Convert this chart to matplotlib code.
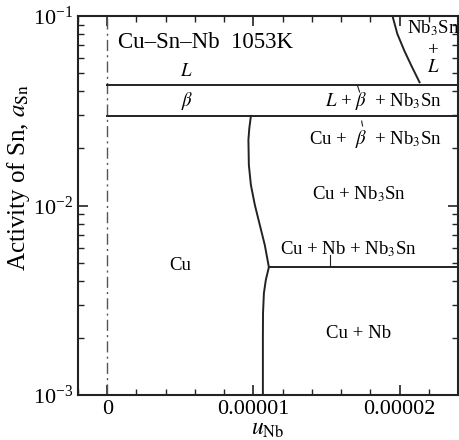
import numpy as np
import matplotlib
matplotlib.use("Agg")
matplotlib.rcParams['font.family'] = ['Liberation Serif', 'DejaVu Serif']
matplotlib.rcParams['mathtext.fontset'] = 'stix'
import matplotlib.pyplot as plt
from matplotlib.ticker import FixedLocator, LogLocator, NullFormatter

# phase boundaries (u_Nb, a_Sn)
a_L_beta = 0.0433        # L / beta boundary
a_beta_cu = 0.0297       # beta / Cu+beta boundary
a_nb_line = 0.00473      # Cu+Nb3Sn / Cu+Nb boundary
u_nb_line_start = 1.106e-5

cu_u = [0.983e-5, 0.972e-5, 0.966e-5, 0.969e-5, 0.983e-5, 1.010e-5, 1.044e-5, 1.078e-5, 1.106e-5]
cu_a = [0.0297, 0.0255, 0.0222, 0.01637, 0.01283, 0.01007, 0.00789, 0.00619, 0.00473]
nb_u = [1.106e-5, 1.085e-5, 1.072e-5, 1.066e-5, 1.065e-5, 1.065e-5]
nb_a = [0.00473, 0.00404, 0.00345, 0.00271, 0.0020, 0.001]

liq_u = [1.952e-5, 1.985e-5, 2.034e-5, 2.082e-5, 2.137e-5]
liq_a = [0.1, 0.0805, 0.0653, 0.0545, 0.0447]

# small leader marks for thin regions
marks = [([1.713e-5, 1.727e-5], [0.0428, 0.0397]),
         ([1.741e-5, 1.747e-5], [0.0279, 0.0263]),
         ([1.522e-5, 1.522e-5], [0.00548, 0.0048])]

xmin, xmax = -2e-6, 2.4e-5
xticks = [0, 1e-5, 2e-5]
xticklabels = ['0', '0.00001', '0.00002']

fig = plt.figure(figsize=(4.6, 4.4), dpi=100)
ax = fig.add_axes([0.1696, 0.1023, 0.826, 0.8613])
ax.set_yscale('log')
ax.set_xlim(xmin, xmax)
ax.set_ylim(1e-3, 1e-1)

lc = '#222222'
lw = 1.4
ax.axvline(0, color='#555555', lw=1.0, ls=(0, (8, 3, 1.5, 3)))
ax.plot([0, xmax], [a_L_beta, a_L_beta], color=lc, lw=lw)
ax.plot([0, xmax], [a_beta_cu, a_beta_cu], color=lc, lw=lw)
ax.plot([u_nb_line_start, xmax], [a_nb_line, a_nb_line], color=lc, lw=lw)
ax.plot(cu_u, cu_a, color=lc, lw=lw)
ax.plot(nb_u, nb_a, color=lc, lw=lw)
ax.plot(liq_u, liq_a, color=lc, lw=lw)
for mu, ma in marks:
    ax.plot(mu, ma, color=lc, lw=0.8)

fs = 13.5
ax.text(0.75e-6, 0.0725, 'Cu–Sn–Nb  1053K', fontsize=16.5, va='center', ha='left')
ax.text(0.54e-5, 0.051, '$L$', fontsize=fs, ha='center', va='center')
ax.text(0.55e-5, 0.0355, r'$\beta$', fontsize=fs, ha='center', va='center')
ax.text(2.29e-5, 0.0355, r'$L$ + $\beta$  + Nb$_3$Sn', fontsize=fs, ha='right', va='center')
ax.text(2.29e-5, 0.0225, r'Cu +  $\beta$  + Nb$_3$Sn', fontsize=fs, ha='right', va='center')
ax.text(1.72e-5, 0.0115, r'Cu + Nb$_3$Sn', fontsize=fs, ha='center', va='center')
ax.text(1.65e-5, 0.0059, r'Cu + Nb + Nb$_3$Sn', fontsize=fs, ha='center', va='center')
ax.text(0.5e-5, 0.0048, 'Cu', fontsize=fs, ha='center', va='center')
ax.text(1.72e-5, 0.00211, 'Cu + Nb', fontsize=fs, ha='center', va='center')
ax.text(2.23e-5, 0.0860, 'Nb$_3$Sn', fontsize=fs, ha='center', va='center')
ax.text(2.23e-5, 0.0655, '+', fontsize=fs, ha='center', va='center')
ax.text(2.23e-5, 0.0532, '$L$', fontsize=fs, ha='center', va='center')

ax.xaxis.set_major_locator(FixedLocator(xticks))
ax.set_xticklabels(xticklabels)
ax.xaxis.set_minor_locator(FixedLocator(np.arange(-2e-6, 2.41e-5, 2e-6)))
ax.yaxis.set_major_locator(LogLocator(base=10, numticks=5))
ax.yaxis.set_minor_locator(LogLocator(base=10, subs=np.arange(2, 10), numticks=10))
ax.yaxis.set_minor_formatter(NullFormatter())
ax.tick_params(which='both', direction='in', top=True, right=True, labelsize=16, color=lc)
ax.tick_params(which='major', length=7, width=1.2)
ax.tick_params(which='minor', length=4, width=1.0)
for s in ax.spines.values():
    s.set_linewidth(1.5)
    s.set_color(lc)

ax.set_ylabel(r'Activity of Sn, $a_{\rm Sn}$', fontsize=18, labelpad=2)
ax.yaxis.set_label_coords(-0.12, 0.575)
ax.set_xlabel(r'$u_{\rm Nb}$', fontsize=17, labelpad=0)

fig.savefig('out.png', dpi=100)
